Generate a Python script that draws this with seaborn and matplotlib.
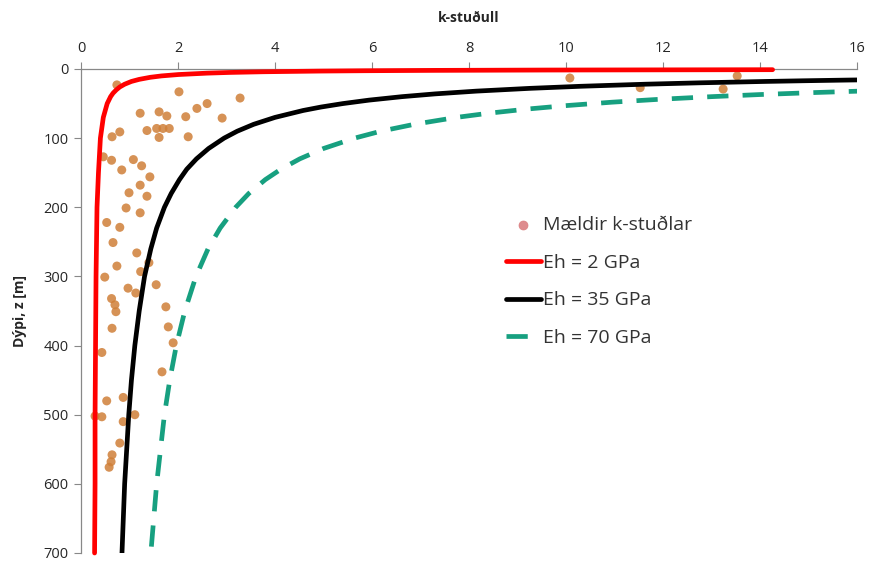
import matplotlib
matplotlib.use("Agg")
import matplotlib.pyplot as plt
import seaborn as sns
import pandas as pd

# Measured k-ratios (k, depth z [m])
meas_k = [0.74, 2.02, 3.28, 1.22, 1.61, 1.77, 2.16, 2.39, 2.60, 2.91, 0.80, 0.64, 1.36, 1.56,
          1.69, 1.82, 1.61, 2.21, 0.46, 0.63, 1.08, 1.25, 0.84, 1.42, 1.22, 0.99, 1.36, 0.93,
          1.22, 0.53, 0.80, 0.66, 1.15, 1.40, 0.74, 1.23, 0.49, 1.55, 0.97, 1.13, 0.63, 0.70,
          1.75, 0.72, 0.64, 1.80, 1.90, 0.43, 1.67, 0.53, 0.87, 0.29, 0.43, 0.87, 1.11, 0.80,
          0.64, 0.58, 0.62, 10.08, 13.53, 11.53, 13.24]
meas_z = [23, 33, 42, 64, 62, 68, 69, 57, 50, 71, 91, 98, 89, 86,
          86, 86, 99, 98, 127, 132, 131, 140, 146, 156, 168, 179, 184, 201,
          208, 222, 229, 251, 266, 280, 285, 293, 301, 312, 317, 324, 332, 341,
          344, 351, 375, 373, 396, 410, 438, 480, 475, 502, 503, 510, 500, 541,
          558, 576, 568, 13, 10, 27, 29]

# Curves (depth z [m], k)
red_z = [1, 1.5, 2, 2.5, 3, 4, 5, 6, 8, 10, 12, 15, 18, 22, 26, 30, 35, 40, 50, 60, 70, 80,
         100, 125, 150, 200, 250, 300, 400, 500, 600, 700]
red_k = [14.26, 9.6, 7.26, 5.86, 4.93, 3.76, 3.06, 2.6, 2.01, 1.66, 1.43, 1.2, 1.04, 0.9,
         0.8, 0.73, 0.66, 0.61, 0.54, 0.5, 0.46, 0.44, 0.40, 0.38, 0.36, 0.33, 0.32, 0.31,
         0.30, 0.29, 0.29, 0.28]

blk_z = [15, 16, 17, 18, 20, 22, 25, 28, 32, 36, 40, 45, 50, 55, 60, 70, 80, 90, 100, 115,
         130, 145, 160, 180, 200, 230, 260, 300, 350, 400, 450, 500, 600, 700]
blk_k = [16.83, 15.81, 14.91, 14.11, 12.75, 11.63, 10.3, 9.25, 8.15, 7.3, 6.62, 5.94, 5.4,
         4.95, 4.58, 4.0, 3.56, 3.22, 2.95, 2.63, 2.38, 2.18, 2.03, 1.86, 1.72, 1.56, 1.44,
         1.31, 1.2, 1.11, 1.04, 0.985, 0.90, 0.845]

grn_z = [30, 32, 34, 37, 40, 44, 48, 53, 58, 64, 70, 80, 90, 100, 115, 130, 145, 160, 180,
         200, 230, 260, 300, 350, 400, 450, 500, 600, 700]
grn_k = [17.07, 16.05, 15.15, 13.98, 13.0, 11.88, 10.95, 9.99, 9.19, 8.4, 7.74, 6.87, 6.18,
         5.64, 5.0, 4.51, 4.12, 3.80, 3.46, 3.19, 2.87, 2.62, 2.37, 2.14, 1.965, 1.83, 1.72,
         1.56, 1.44]

x_ticks = [0, 2, 4, 6, 8, 10, 12, 14, 16]
y_ticks = [0, 100, 200, 300, 400, 500, 600, 700]

sns.set_theme(style="white")
plt.rcParams['font.family'] = ['Open Sans', 'DejaVu Sans']

fig = plt.figure(figsize=(8.7, 5.65), dpi=100)
ax = fig.add_axes([81/870, 1-553/565, (857-81)/870, (553-69)/565])

meas = pd.DataFrame({"k": meas_k, "z": meas_z})
sns.scatterplot(data=meas, x="k", y="z", ax=ax, color="#cf7f38", marker="o", s=42,
                edgecolor="none", alpha=0.85, label="Mældir k-stuðlar", zorder=2, clip_on=False)

red = pd.DataFrame({"k": red_k, "z": red_z})
blk = pd.DataFrame({"k": blk_k, "z": blk_z})
grn = pd.DataFrame({"k": grn_k, "z": grn_z})
sns.lineplot(data=red, x="k", y="z", sort=False, estimator=None, ax=ax, color="#ff0000",
             lw=3.4, label="Eh = 2 GPa", zorder=4, clip_on=False)
sns.lineplot(data=blk, x="k", y="z", sort=False, estimator=None, ax=ax, color="#000000",
             lw=3.4, label="Eh = 35 GPa", zorder=3)
sns.lineplot(data=grn, x="k", y="z", sort=False, estimator=None, ax=ax, color="#17a080",
             lw=3.4, label="Eh = 70 GPa", zorder=3)
ax.lines[-1].set_linestyle((0, (4.5, 3.0)))

ax.set_xlim(0, 16)
ax.set_ylim(700, 0)
ax.set_xticks(x_ticks)
ax.set_yticks(y_ticks)
ax.xaxis.tick_top()
ax.xaxis.set_label_position("top")
ax.tick_params(axis="x", which="both", top=True, bottom=False, direction="out",
               length=5, width=0.8, color="#888888", labelsize=10.5, pad=4)
ax.tick_params(axis="y", which="both", left=True, direction="out",
               length=5, width=0.8, color="#888888", labelsize=10.5, pad=4)
ax.set_xlabel("k-stuðull", fontsize=10, fontweight="bold", labelpad=14)
ax.set_ylabel("Dýpi, z [m]", fontsize=10, fontweight="bold", labelpad=12)
for s in ["right", "bottom"]:
    ax.spines[s].set_visible(False)
for s in ["left", "top"]:
    ax.spines[s].set_color("#888888")
    ax.spines[s].set_linewidth(0.9)

leg = ax.legend(loc="upper left", bbox_to_anchor=(488/870, 1-199/565),
                bbox_transform=fig.transFigure, frameon=False, fontsize=14,
                handlelength=1.85, labelspacing=1.0, handletextpad=0.1)
leg.legend_handles[0].set_color("#d9787a")
for t in leg.get_texts():
    t.set_color("#333333")

fig.savefig("out.png", dpi=100)
